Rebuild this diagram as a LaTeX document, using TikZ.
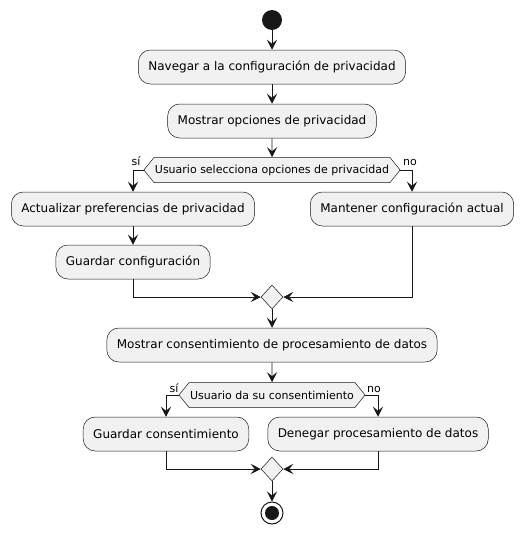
\documentclass[tikz,border=0pt]{standalone}
\usepackage{fontspec}
\setmainfont{DejaVu Sans}
\usetikzlibrary{arrows.meta, shapes.symbols, shapes.geometric}
\usepackage{xcolor}
\definecolor{boxfill}{HTML}{F1F1F1}
\definecolor{linecol}{HTML}{181818}

\begin{document}
\begin{tikzpicture}[x=1pt,y=-1pt]
			\tikzstyle{action} = [rectangle,rounded corners=12pt,fill=boxfill,draw=linecol,line width=0.5pt,minimum height=34pt,inner xsep=10pt,font=\fontsize{12}{14}\selectfont]
			\tikzstyle{choice} = [signal,signal to=west and east,signal pointer angle=102,fill=boxfill,draw=linecol,line width=0.5pt,minimum height=25pt,inner xsep=1pt,inner ysep=0pt,font=\fontsize{11}{13}\selectfont]
			\tikzstyle{merge} = [diamond,fill=boxfill,draw=linecol,line width=0.5pt,minimum width=22pt,minimum height=24pt,inner sep=0pt]
			\tikzstyle{guard} = [inner sep=0pt,font=\fontsize{11}{13}\selectfont]
			\tikzstyle{edge} = [-{Stealth[length=10pt,width=10pt,inset=4pt]},draw=linecol,line width=0.9pt]
			\useasboundingbox (0,0) rectangle (522,533);
			\node[circle,fill=linecol,minimum size=20pt,inner sep=0pt] (start) at (272,20) {};
			\node[action] (n1) at (272,67) {Navegar a la configuración de privacidad};
			\node[action] (n2) at (272,121) {Mostrar opciones de privacidad};
			\node[choice] (c1) at (272,170) {Usuario selecciona opciones de privacidad};
			\node[action] (n3) at (133,209) {Actualizar preferencias de privacidad};
			\node[action] (n4) at (133,262) {Guardar configuración};
			\node[action] (n5) at (412,209) {Mantener configuración actual};
			\node[merge] (m1) at (272,297) {};
			\node[action] (n6) at (272,345) {Mostrar consentimiento de procesamiento de datos};
			\node[choice] (c2) at (272,395) {Usuario da su consentimiento};
			\node[action] (n7) at (166,434) {Guardar consentimiento};
			\node[action] (n8) at (378,434) {Denegar procesamiento de datos};
			\node[merge] (m2) at (272,469) {};
			\node[circle,draw=linecol,fill=white,line width=1pt,minimum size=22pt,inner sep=0pt] (stop) at (272,513) {};
			\node[circle,fill=linecol,minimum size=14pt,inner sep=0pt] (stopdot) at (stop) {};
			\node[guard] (si1) at (136,161) {sí};
			\node[guard] (no1) at (410,162) {no};
			\node[guard] (si2) at (174,388) {sí};
			\node[guard] (no2) at (374,389) {no};
			\draw[edge] (start)--(n1);
			\draw[edge] (n1)--(n2);
			\draw[edge] (n2)--(c1);
			\draw[edge] (c1.west) -| (n3);
			\draw[edge] (c1.east) -| (n5);
			\draw[edge] (n3)--(n4);
			\draw[edge] (n4) |- (m1);
			\draw[edge] (n5) |- (m1);
			\draw[edge] (m1)--(n6);
			\draw[edge] (n6)--(c2);
			\draw[edge] (c2.west) -| (n7);
			\draw[edge] (c2.east) -| (n8);
			\draw[edge] (n7) |- (m2);
			\draw[edge] (n8) |- (m2);
			\draw[edge] (m2)--(stop);
			\end{tikzpicture}
\end{document}
